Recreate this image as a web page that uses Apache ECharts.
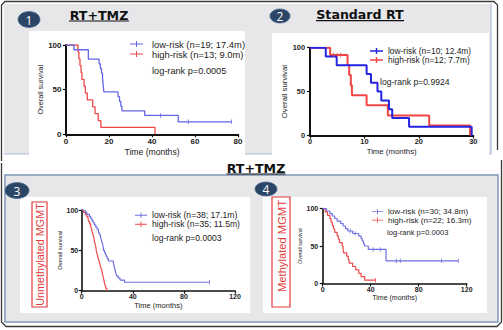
<!DOCTYPE html>
<html>
<head>
<meta charset="utf-8">
<script src="https://cdn.jsdelivr.net/npm/echarts@6/dist/echarts.min.js"></script>
<style>
  html, body { margin: 0; padding: 0; background: #fff; }
  #main { width: 503px; height: 330px; }
</style>
</head>
<body>
<div id="main"></div>
<script>
// ---- Kaplan-Meier step data: [months, % surviving] ----
// Panel 1: RT+TMZ
const p1Low = [[0,100],[3.7,94.7],[10.4,84.2],[15.4,78.9],[16.0,73.7],[16.5,68.4],[17.0,63.2],[17.2,57.9],[17.4,52.6],[17.6,47.4],[24.2,42.1],[24.9,36.8],[25.5,31.6],[26.0,26.3],[36.6,21.1],[52.2,14.0],[77.0,14.0]];
const p1LowCensor = [[44.0,21.1],[56.9,14.0],[77.0,14.0]];
const p1High = [[0,100],[5.6,92.3],[6.0,84.6],[6.5,76.9],[7.0,69.2],[7.4,61.5],[8.4,53.8],[9.0,46.2],[9.9,38.5],[12.4,30.8],[13.5,23.1],[15.0,15.4],[16.2,7.7],[41.4,0]];
const p1HighCensor = [];

// Panel 2: Standard RT
const p2Low = [[0,100],[2.9,90],[4.9,80],[10.4,70],[11.2,60],[12.4,50],[13.1,40],[14.5,30],[15.1,20],[18.2,10],[29.7,0]];
const p2LowCensor = [];
const p2High = [[0,100],[3.7,91.7],[6.9,80.2],[7.2,68.8],[7.5,57.3],[7.7,45.8],[10.4,34.4],[14.3,22.9],[21.9,11.5],[29.4,0]];
const p2HighCensor = [[4.3,91.7],[5.0,91.7],[5.6,91.7]];

// Panel 3: RT+TMZ, unmethylated MGMT
const p3Low = [[0,100],[2.8,97.4],[4,94.7],[6,92.1],[7,89.5],[8,86.8],[9,84.2],[10,81.6],[11,78.9],[12,76.3],[13,73.7],[13.5,71.1],[14.2,68.4],[14.8,65.8],[15.3,63.2],[15.8,60.5],[16.3,57.9],[16.7,55.3],[17.0,52.6],[17.1,50.0],[17.8,47.4],[18.5,44.7],[19.3,42.1],[20.0,39.5],[21.0,36.8],[24.8,34.2],[25.2,31.6],[25.6,28.9],[26.0,26.3],[26.4,23.7],[26.8,21.1],[27.3,18.4],[28.5,15.8],[30.0,13.2],[33.5,10.5],[100,10.5]];
const p3LowCensor = [[100,10.5]];
const p3High = [[0,100],[1.5,97.1],[3,94.3],[4,91.4],[5,88.6],[5.5,85.7],[6.2,82.9],[7,80.0],[7.5,77.1],[8,74.3],[8.5,71.4],[9,68.6],[9.5,65.7],[9.8,62.9],[10.2,60.0],[10.6,57.1],[11,54.3],[11.3,51.4],[11.5,48.6],[12,45.7],[12.5,42.9],[13,40.0],[13.5,37.1],[14,34.3],[14.5,31.4],[15,28.6],[15.5,25.7],[16,22.9],[16.4,20.0],[16.8,17.1],[17.2,14.3],[17.6,11.4],[18,8.6],[18.5,5.7],[19,2.9],[19.6,0]];
const p3HighCensor = [];

// Panel 4: RT+TMZ, methylated MGMT
const p4Low = [[0,100],[3,96.7],[6,93.3],[8,90.0],[10,86.7],[12,83.3],[15,80.0],[17,76.7],[19,73.3],[21,70.0],[25,66.7],[30,63.3],[32,60.0],[33,56.7],[34,53.3],[34.8,50.0],[38,45.5],[52.8,30.3],[113,30.3]];
const p4LowCensor = [[23,70.0],[27,66.7],[42,45.5],[48,45.5],[61.4,30.3],[64.7,30.3],[99,30.3],[113,30.3]];
const p4High = [[0,100],[2,95.5],[4,90.9],[6,86.4],[7,81.8],[8,77.3],[9,72.7],[10,68.2],[12,63.6],[13,59.1],[14,54.5],[16.3,50.0],[17,45.5],[17.5,40.9],[20,36.4],[21.3,31.8],[22,27.3],[25,22.7],[27.5,18.2],[30,13.6],[32,9.1],[35,4.5],[44,4.5]];
const p4HighCensor = [[44,4.5]];

// Legend labels and test statistics
const lowNames  = ['low-risk (n=19; 17.4m)', 'low-risk (n=10; 12.4m)', 'low-risk (n=38; 17.1m)', 'low-risk (n=30; 34.8m)'];
const highNames = ['high-risk (n=13; 9.0m)', 'high-risk (n=12; 7.7m)', 'high-risk (n=35; 11.5m)', 'high-risk (n=22; 16.3m)'];
const logRank   = ['log-rank p=0.0005', 'log-rank p=0.9924', 'log-rank p=0.0003', 'log-rank p=0.0003'];
const xMax      = [80, 30, 120, 120];
const xStep     = [20, 10, 40, 40];
const yTicks    = { min: 0, max: 100, step: 50 };
const panelTitles = ['RT+TMZ', 'Standard RT', 'RT+TMZ'];
const mgmtLabels  = ['Unmethylated MGMT', 'Methylated MGMT'];
const badgeNums   = ['1', '2', '3', '4'];

const lows  = [p1Low, p2Low, p3Low, p4Low];
const highs = [p1High, p2High, p3High, p4High];
const lowCens  = [p1LowCensor, p2LowCensor, p3LowCensor, p4LowCensor];
const highCens = [p1HighCensor, p2HighCensor, p3HighCensor, p4HighCensor];

// ---- per-panel styling ----
const FONT = 'Liberation Sans, Arial, sans-serif';
const panels = [
  { grid: {left: 66,    top: 45,    width: 172,   height: 89.3}, axisW: 2,   tickFs: 8,   xNameFs: 8.6, yNameFs: 7.3, yGap: 22, xGap: 13, xLabM: 3.5, yLabM: 4.5,
    legFs: 9.4, legLeft: 130, legTop: 39,   legLH: 10,  legPad: 4, logX: 152, logY: 71,    logFs: 9.2,
    lineW: 1.3, blue: '#6565e8', red: '#ef4848', iconW: 13 },
  { grid: {left: 310,   top: 47.7,  width: 163.3, height: 87.8}, axisW: 2,   tickFs: 7.4, xNameFs: 7.8, yNameFs: 7.8, yGap: 22, xGap: 12, xLabM: 2.5, yLabM: 5,
    legFs: 8.4, legLeft: 370, legTop: 46.5, legLH: 9,   legPad: 0, logX: 380, logY: 82,    logFs: 8.6,
    lineW: 2,   blue: '#2424e2', red: '#f04545', iconW: 13 },
  { grid: {left: 81.7,  top: 210,   width: 153.3, height: 80.7}, axisW: 1.6, tickFs: 7,   xNameFs: 7.5, yNameFs: 5.7, yGap: 18, xGap: 10.5, xLabM: 2.5, yLabM: 3.5,
    legFs: 8.6, legLeft: 135, legTop: 210.7, legLH: 8.6, legPad: 0, logX: 152, logY: 237.5, logFs: 8.6,
    lineW: 1.2, blue: '#7070e4', red: '#ee4a4a', iconW: 12 },
  { grid: {left: 322.7, top: 208.5, width: 144,   height: 75},   axisW: 1.6, tickFs: 7,   xNameFs: 7,   yNameFs: 5.2, yGap: 19, xGap: 9,  xLabM: 2.5, yLabM: 4.5,
    legFs: 8.1, legLeft: 372, legTop: 207.5, legLH: 8.4, legPad: 0, logX: 387, logY: 232.7, logFs: 7.6,
    lineW: 1.2, blue: '#7070e4', red: '#ee4a4a', iconW: 11 }
];

const thinIcon  = 'path://M0,2.5H13V3.5H0Z M6,0H7V6H6Z';
const thickIcon = 'path://M0,2.2H13V3.8H0Z M5.8,0H7.2V6H5.8Z';

const grids = [], xAxes = [], yAxes = [], series = [], legends = [], texts = [];

panels.forEach((p, i) => {
  grids.push(Object.assign({ containLabel: false }, p.grid));
  xAxes.push({
    gridIndex: i, type: 'value', min: 0, max: xMax[i], interval: xStep[i],
    axisLine: { show: true, onZero: false, lineStyle: { color: '#111', width: p.axisW } },
    axisTick: { show: true, length: 3, lineStyle: { color: '#111', width: 1.2 } },
    axisLabel: { fontSize: p.tickFs, fontWeight: 'bold', color: '#222', margin: p.xLabM, fontFamily: FONT },
    splitLine: { show: false },
    name: 'Time (months)', nameLocation: 'middle', nameGap: p.xGap,
    nameTextStyle: { fontSize: p.xNameFs, color: '#222', fontFamily: FONT }
  });
  yAxes.push({
    gridIndex: i, type: 'value', min: yTicks.min, max: yTicks.max, interval: yTicks.step,
    axisLine: { show: true, onZero: false, lineStyle: { color: '#111', width: p.axisW } },
    axisTick: { show: true, length: 3, lineStyle: { color: '#111', width: 1.2 } },
    axisLabel: { fontSize: p.tickFs, fontWeight: 'bold', color: '#222', margin: p.yLabM, fontFamily: FONT },
    splitLine: { show: false },
    name: 'Overall survival', nameLocation: 'middle', nameGap: p.yGap, nameRotate: 90,
    nameTextStyle: { fontSize: p.yNameFs, color: '#222', fontFamily: FONT }
  });

  const groups = [
    { name: lowNames[i],  data: lows[i],  cens: lowCens[i],  color: p.blue },
    { name: highNames[i], data: highs[i], cens: highCens[i], color: p.red }
  ];
  // draw red first so blue sits on top where they overlap
  [groups[1], groups[0]].forEach(g => {
    series.push({
      type: 'line', name: g.name, xAxisIndex: i, yAxisIndex: i, data: g.data,
      step: 'end', showSymbol: false, symbol: 'none', silent: true,
      lineStyle: { color: g.color, width: p.lineW }, itemStyle: { color: g.color }, z: 3
    });
    if (g.cens.length) {
      series.push({
        type: 'scatter', name: g.name + ' censored', xAxisIndex: i, yAxisIndex: i, data: g.cens,
        symbol: 'rect', symbolSize: [1, 4.5], silent: true, itemStyle: { color: g.color }, z: 4
      });
    }
  });

  const icon = p.lineW >= 2 ? thickIcon : thinIcon;
  legends.push({
    orient: 'vertical', left: p.legLeft, top: p.legTop, padding: 0, itemGap: 0,
    itemWidth: p.iconW, itemHeight: 6, selectedMode: false,
    data: [{ name: lowNames[i], icon: icon }, { name: highNames[i], icon: icon }],
    textStyle: { fontSize: p.legFs, lineHeight: p.legLH, color: '#222', fontFamily: FONT, padding: [0, 0, 0, p.legPad] }
  });

  texts.push({
    type: 'text', x: p.logX, y: p.logY, z: 50,
    style: { text: logRank[i], fontSize: p.logFs, fontFamily: FONT, fill: '#222', verticalAlign: 'middle' }
  });
});

// ---- figure frames, panel backgrounds, badges and titles ----
const frameColor = '#3a3a3a';
const panelGray = '#e7e7ea';
const TITLE_FONT = 'DejaVu Sans, sans-serif';

const deco = [
  // upper figure frame
  { type: 'polyline', z: -20, shape: { points: [[1.5,161],[1.5,5],[5,1.5],[494,1.5],[497.5,5],[497.5,150]] },
    style: { stroke: frameColor, lineWidth: 1.3, fill: null } },
  { type: 'rect', z: -19, shape: { x: 4, y: 4, width: 487, height: 150 }, style: { fill: panelGray } },
  { type: 'line', z: -18, shape: { x1: 4, y1: 154, x2: 491, y2: 154 }, style: { stroke: '#a8bcd8', lineWidth: 1.2 } },
  { type: 'line', z: -18, shape: { x1: 491, y1: 4, x2: 491, y2: 154 }, style: { stroke: '#a8bcd8', lineWidth: 1.2 } },
  { type: 'rect', z: -17, shape: { x: 29, y: 31, width: 216, height: 126 }, style: { fill: '#fff' } },
  { type: 'rect', z: -17, shape: { x: 272, y: 33, width: 217, height: 124 }, style: { fill: '#fff' } },

  // lower figure frame
  { type: 'polyline', z: -20, shape: { points: [[1.5,163],[1.5,322],[6,326.5],[497,326.5],[501.5,322],[501.5,160]] },
    style: { stroke: frameColor, lineWidth: 1.3, fill: null } },
  { type: 'rect', z: -19, shape: { x: 5, y: 175, width: 493, height: 147 },
    style: { fill: panelGray, stroke: '#8096b6', lineWidth: 1.5 } },
  { type: 'rect', z: -17, shape: { x: 20, y: 197, width: 230, height: 116 }, style: { fill: '#fff' } },
  { type: 'rect', z: -17, shape: { x: 263, y: 197, width: 224, height: 116 }, style: { fill: '#fff' } },

  // MGMT status boxes
  { type: 'rect', z: 10, shape: { x: 32, y: 202, width: 15, height: 105 }, style: { fill: null, stroke: '#e43a3a', lineWidth: 1.2 } },
  { type: 'text', z: 11, x: 40, y: 254.5, rotation: Math.PI / 2,
    style: { text: mgmtLabels[0], fontSize: 10.8, fontFamily: FONT, fill: '#e43a3a', align: 'center', verticalAlign: 'middle' } },
  { type: 'rect', z: 10, shape: { x: 272, y: 197, width: 18, height: 110 }, style: { fill: null, stroke: '#e43a3a', lineWidth: 1.2 } },
  { type: 'text', z: 11, x: 281.5, y: 246, rotation: Math.PI / 2,
    style: { text: mgmtLabels[1], fontSize: 11.2, fontFamily: FONT, fill: '#e43a3a', align: 'center', verticalAlign: 'middle' } }
];

// numbered badges
const badges = [
  { cx: 29,  cy: 19.5, rx: 11, ry: 8 },
  { cx: 280, cy: 16,   rx: 10, ry: 7 },
  { cx: 17,  cy: 190.5, rx: 12, ry: 8 },
  { cx: 266, cy: 189,  rx: 11, ry: 7 }
];
badges.forEach((b, i) => {
  deco.push({ type: 'ellipse', z: 20, shape: b, style: { fill: '#2b4566', stroke: '#4d6a8f', lineWidth: 0.8 } });
  deco.push({ type: 'text', z: 21, x: b.cx, y: b.cy + 0.5,
    style: { text: badgeNums[i], fontSize: 12, fontFamily: 'Open Sans, sans-serif', fill: '#fff', align: 'center', verticalAlign: 'middle' } });
});

// underlined panel titles
const titlePos = [
  { x: 99,  y: 15.8, ul: 21,   w: 60 },
  { x: 360, y: 14.7, ul: 20.7, w: 88 },
  { x: 256, y: 168,  ul: 174,  w: 59 }
];
titlePos.forEach((t, i) => {
  deco.push({ type: 'text', z: 21, x: t.x, y: t.y,
    style: { text: panelTitles[i], fontSize: 12.6, fontWeight: 'bold', fontFamily: TITLE_FONT, fill: '#111', align: 'center', verticalAlign: 'middle' } });
  deco.push({ type: 'line', z: 21, shape: { x1: t.x - t.w / 2, y1: t.ul, x2: t.x + t.w / 2, y2: t.ul }, style: { stroke: '#111', lineWidth: 1.2 } });
});

const chart = echarts.init(document.getElementById('main'), null, { renderer: 'svg', width: 503, height: 330 });
chart.setOption({
  animation: false,
  backgroundColor: '#fff',
  grid: grids,
  xAxis: xAxes,
  yAxis: yAxes,
  legend: legends,
  series: series,
  graphic: { elements: deco.concat(texts) }
});
</script>
</body>
</html>
